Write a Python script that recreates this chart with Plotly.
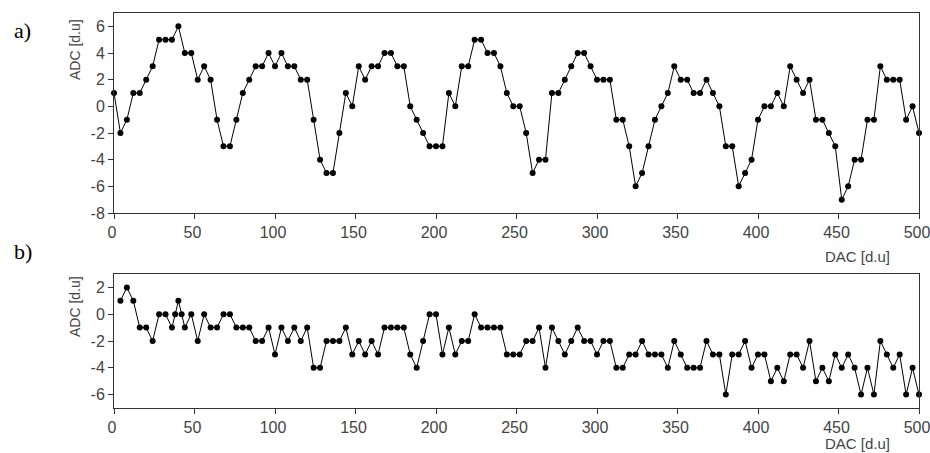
import plotly.graph_objects as go

# ---- data ----
dac_a = list(range(0, 501, 4))
adc_a = [1, -2, -1, 1, 1, 2, 3, 5, 5, 5,
         6, 4, 4, 2, 3, 2, -1, -3, -3, -1,
         1, 2, 3, 3, 4, 3, 4, 3, 3, 2,
         2, -1, -4, -5, -5, -2, 1, 0, 3, 2,
         3, 3, 4, 4, 3, 3, 0, -1, -2, -3,
         -3, -3, 1, 0, 3, 3, 5, 5, 4, 4,
         3, 1, 0, 0, -2, -5, -4, -4, 1, 1,
         2, 3, 4, 4, 3, 2, 2, 2, -1, -1,
         -3, -6, -5, -3, -1, 0, 1, 3, 2, 2,
         1, 1, 2, 1, 0, -3, -3, -6, -5, -4,
         -1, 0, 0, 1, 0, 3, 2, 1, 2, -1,
         -1, -2, -3, -7, -6, -4, -4, -1, -1, 3,
         2, 2, 2, -1, 0, -2]

dac_b = list(range(4, 37, 4)) + [38, 40, 42, 44] + list(range(48, 501, 4))
adc_b = [1, 2, 1, -1, -1, -2, 0, 0, -1,
         0, 1, 0, -1,
         0, -2, 0, -1, -1, 0, 0, -1, -1, -1,
         -2, -2, -1, -3, -1, -2, -1, -2, -1, -4,
         -4, -2, -2, -2, -1, -3, -2, -3, -2, -3,
         -1, -1, -1, -1, -3, -4, -2, 0, 0, -3,
         -1, -3, -2, -2, 0, -1, -1, -1, -1, -3,
         -3, -3, -2, -2, -1, -4, -1, -2, -3, -2,
         -1, -2, -2, -3, -2, -2, -4, -4, -3, -3,
         -2, -3, -3, -3, -4, -2, -3, -4, -4, -4,
         -2, -3, -3, -6, -3, -3, -2, -4, -3, -3,
         -5, -4, -5, -3, -3, -4, -2, -5, -4, -5,
         -3, -4, -3, -4, -6, -4, -6, -2, -3, -4,
         -3, -6, -4, -6]

x_ticks = [0, 50, 100, 150, 200, 250, 300, 350, 400, 450, 500]
ya_ticks = [-8, -6, -4, -2, 0, 2, 4, 6]
yb_ticks = [-6, -4, -2, 0, 2]

W, H = 930, 453
FONT = "Liberation Sans, Arial, sans-serif"
TXT = "#444444"
AX = "#333333"

def px_x(p):
    return p / W

def px_y(p):
    return 1 - p / H

fig = go.Figure()
marker = dict(color="black", size=6)
fig.add_trace(go.Scatter(x=dac_a, y=adc_a, mode="lines+markers",
                         line=dict(color="black", width=1), marker=marker,
                         cliponaxis=False, xaxis="x", yaxis="y", showlegend=False))
fig.add_trace(go.Scatter(x=dac_b, y=adc_b, mode="lines+markers",
                         line=dict(color="black", width=1), marker=marker,
                         cliponaxis=False, xaxis="x2", yaxis="y2", showlegend=False))

xd = [px_x(114), px_x(919)]
common_x = dict(range=[0, 500], tickvals=x_ticks, ticktext=[str(v) for v in x_ticks],
                showgrid=False, zeroline=False, showline=True, linecolor=AX,
                linewidth=1, mirror=True, ticks="outside", ticklen=5, tickcolor=AX,
                ticklabeloverflow="allow", automargin=False, ticklabelshift=-2,
                tickfont=dict(family=FONT, size=16, color=TXT), domain=xd)
common_y = dict(showgrid=False, zeroline=False, showline=True, linecolor=AX,
                linewidth=1, mirror=True, ticks="outside", ticklen=5, tickcolor=AX,
                ticklabeloverflow="allow", automargin=False,
                tickfont=dict(family=FONT, size=16, color=TXT))

fig.update_layout(
    width=W, height=H,
    margin=dict(l=0, r=0, t=0, b=0),
    paper_bgcolor="white", plot_bgcolor="white",
    xaxis=dict(anchor="y", **common_x),
    yaxis=dict(anchor="x", range=[-8, 7], tickvals=ya_ticks,
               ticktext=[str(v) for v in ya_ticks],
               domain=[px_y(213), px_y(13)], **common_y),
    xaxis2=dict(anchor="y2", **common_x),
    yaxis2=dict(anchor="x2", range=[-7, 3], tickvals=yb_ticks,
                ticktext=[str(v) for v in yb_ticks],
                domain=[px_y(408), px_y(274)], **common_y),
)

ann = [
    dict(text="a)", x=px_x(12), y=px_y(30), xanchor="left", yanchor="middle",
         font=dict(family="Liberation Serif, Times New Roman, serif", size=22, color="black")),
    dict(text="b)", x=px_x(12), y=px_y(251), xanchor="left", yanchor="middle",
         font=dict(family="Liberation Serif, Times New Roman, serif", size=22, color="black")),
    dict(text="ADC [d.u]", x=px_x(75), y=px_y(50), textangle=-90,
         xanchor="center", yanchor="middle",
         font=dict(family=FONT, size=14, color=TXT)),
    dict(text="ADC [d.u]", x=px_x(75), y=px_y(307), textangle=-90,
         xanchor="center", yanchor="middle",
         font=dict(family=FONT, size=14, color=TXT)),
    dict(text="DAC [d.u]", x=px_x(892), y=px_y(256), xanchor="right", yanchor="middle",
         font=dict(family=FONT, size=15, color=TXT)),
    dict(text="DAC [d.u]", x=px_x(892), y=px_y(443), xanchor="right", yanchor="middle",
         font=dict(family=FONT, size=15, color=TXT)),
]
for a in ann:
    fig.add_annotation(xref="paper", yref="paper", showarrow=False, **a)

post = """
var s = document.documentElement.style; s.margin='0'; s.padding='0'; s.overflow='hidden';
var b = document.body.style; b.margin='0'; b.padding='0'; b.overflow='hidden';
"""
fig.write_html("out.html", config={"displayModeBar": False}, post_script=post)
